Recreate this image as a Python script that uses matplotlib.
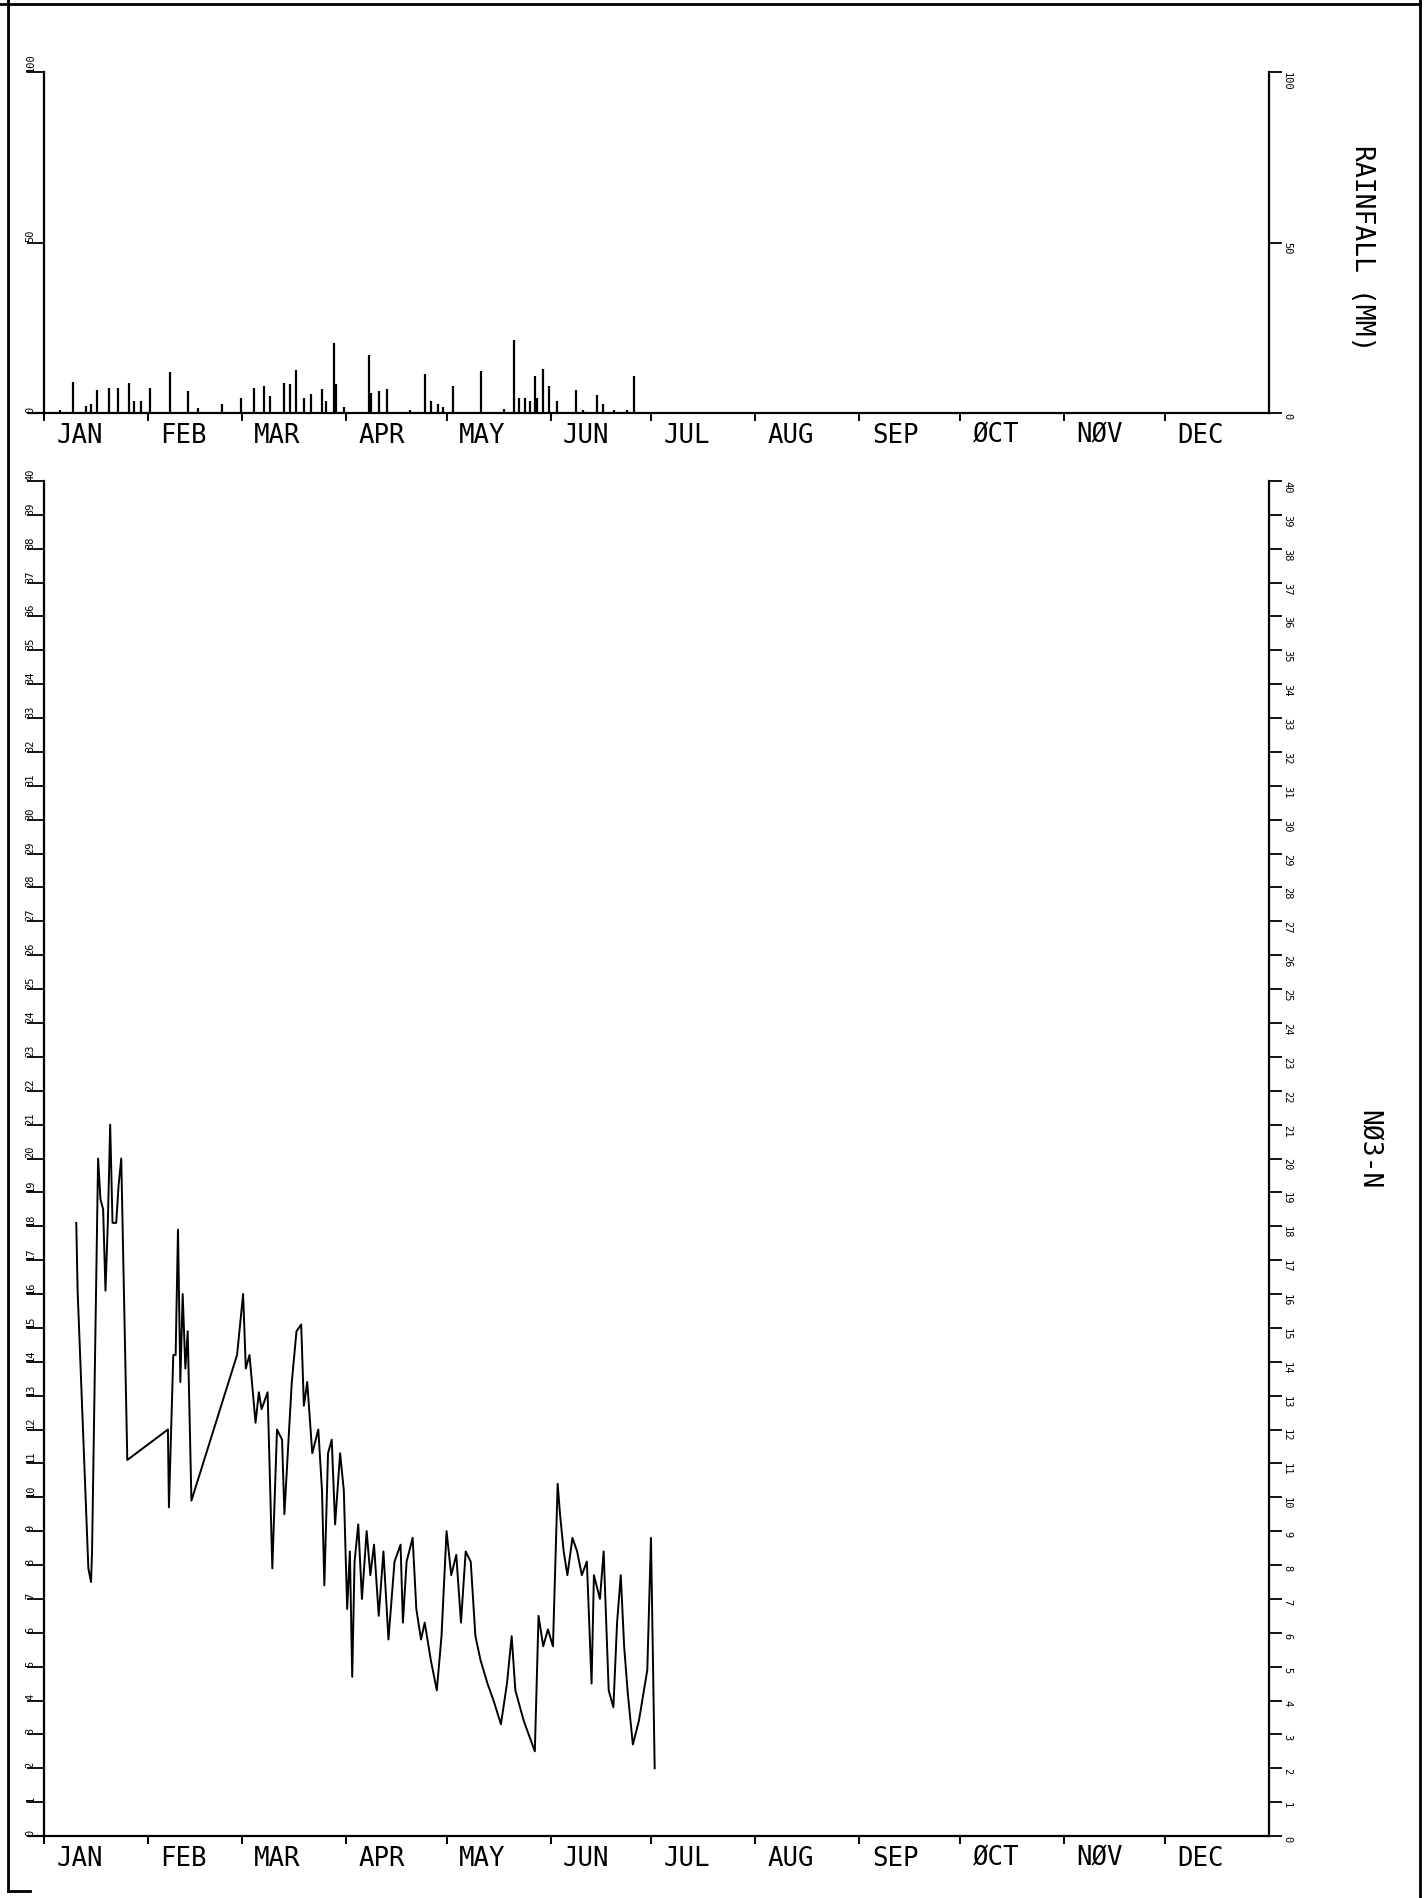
import matplotlib
matplotlib.use("Agg")
import matplotlib.pyplot as plt
import matplotlib.transforms as mtransforms
from matplotlib.lines import Line2D

MONTH_START = [0, 31, 59, 90, 120, 151, 181, 212, 243, 273, 304, 334]
MONTHS = ["JAN", "FEB", "MAR", "APR", "MAY", "JUN", "JUL", "AUG", "SEP", "ØCT", "NØV", "DEC"]

# daily rainfall (day of year, mm)
RAIN_DAY = [5, 8.6, 12.6, 14, 16, 19.5, 22, 25.5, 27, 29, 31.7, 37.5, 43, 46, 53, 58.7,
            62.7, 65.6, 67.4, 71.7, 73.5, 75.3, 77.5, 79.6, 82.9, 84, 86.5, 87, 89.4,
            97, 97.6, 99.8, 102.3, 109, 113.5, 115.3, 117.5, 119, 122, 130.4, 137, 140,
            141.6, 143.4, 145, 146.3, 147, 148.8, 150.6, 152.8, 158.5, 160.7, 164.7,
            166.5, 170, 173.7, 175.8]
RAIN_MM = [1, 9, 2, 2.5, 6.8, 7.4, 7.4, 8.8, 3.5, 3.5, 7.4, 12, 6.4, 1.5, 2.5, 4.4,
           7.4, 7.9, 5, 8.8, 8.4, 12.6, 4.3, 5.5, 6.9, 3.5, 20.6, 8.4, 1.7,
           17, 6, 6.4, 6.9, 1, 11.3, 3.4, 2.5, 1.7, 7.9, 12.3, 1.3, 21.5,
           4.3, 4.3, 3.4, 10.9, 4.3, 12.8, 7.9, 3.4, 6.8, 0.9, 5.4,
           2.5, 0.9, 0.9, 10.9]

# NO3-N concentration
NO3_DAY = [9.7, 10.1, 13.3, 14.1, 14.4, 16.2, 16.9, 17.7, 18.4, 19.1, 19.8, 20.5, 21.6,
           22.3, 23.1, 24.9, 37.0, 37.3, 38.6, 39.3, 40.0, 40.7, 41.4, 42.2, 42.9, 44.0,
           57.6, 59.4, 60.2, 61.3, 62.3, 63.1, 64.1, 64.9, 66.7, 68.1, 69.5, 71.0, 71.7,
           73.1, 73.9, 75.3, 76.7, 77.5, 78.5, 80.0, 81.8, 82.9, 83.6, 84.7, 85.8, 86.8,
           88.3, 89.4, 90.4, 91.2, 91.9, 92.6, 93.7, 94.8, 96.2, 97.3, 98.4, 99.8, 101.2,
           102.7, 104.5, 106.3, 107.0, 108.1, 109.9, 111.0, 112.4, 113.5, 115.3, 117.1,
           118.5, 120.0, 121.4, 122.9, 124.3, 125.7, 127.2, 128.6, 130.1, 132.2, 134.0,
           136.2, 138.0, 139.4, 140.5, 143.0, 146.3, 147.4, 148.8, 150.2, 151.7, 153.1,
           153.8, 154.9, 156.0, 157.5, 158.9, 160.3, 161.8, 163.2, 163.9, 165.7, 166.8,
           168.3, 169.7, 170.8, 171.9, 172.9, 174.0, 175.5, 177.3, 178.3, 179.8, 180.9,
           182.0]
NO3_VAL = [18.1, 16.1, 7.9, 7.5, 8.4, 20.0, 18.8, 18.5, 16.1, 18.1, 21.0, 18.1, 18.1,
           19.2, 20.0, 11.1, 12.0, 9.7, 14.2, 14.2, 17.9, 13.4, 16.0, 13.8, 14.9, 9.9,
           14.2, 16.0, 13.8, 14.2, 13.1, 12.2, 13.1, 12.6, 13.1, 7.9, 12.0, 11.7, 9.5,
           12.0, 13.4, 14.9, 15.1, 12.7, 13.4, 11.3, 12.0, 10.2, 7.4, 11.3, 11.7, 9.2,
           11.3, 10.2, 6.7, 8.4, 4.7, 8.1, 9.2, 7.0, 9.0, 7.7, 8.6, 6.5, 8.4,
           5.8, 8.1, 8.6, 6.3, 8.1, 8.8, 6.7, 5.8, 6.3, 5.2, 4.3,
           5.9, 9.0, 7.7, 8.3, 6.3, 8.4, 8.1, 5.9, 5.2, 4.5, 4.0,
           3.3, 4.5, 5.9, 4.3, 3.4, 2.5, 6.5, 5.6, 6.1, 5.6, 10.4,
           9.5, 8.4, 7.7, 8.8, 8.4, 7.7, 8.1, 4.5, 7.7, 7.0,
           8.4, 4.3, 3.8, 6.3, 7.7, 5.6, 4.2, 2.7, 3.4, 4.0, 4.9, 8.8,
           2.0]

W, H = 1425, 1898
plt.rcParams["font.family"] = ["DejaVu Sans Mono"]

fig = plt.figure(figsize=(W / 100, H / 100), dpi=100)

X0_PX, X1_PX = 28.6, 1269
ax_rain = fig.add_axes([X0_PX / W, 1 - 413 / H, (X1_PX - X0_PX) / W, (413 - 72) / H])
ax_no3 = fig.add_axes([X0_PX / W, 1 - 1836 / H, (X1_PX - X0_PX) / W, (1836 - 481) / H])


def style_axes(ax, yticks):
    ax.set_xlim(-4.5, 365)
    ax.spines["top"].set_visible(False)
    ax.spines["left"].set_position(("data", 0))
    for s in ["left", "right", "bottom"]:
        ax.spines[s].set_linewidth(1.6)

    ax.set_xticks(MONTH_START)
    ax.set_xticklabels(MONTHS, fontsize=18.5, ha="left")
    ax.tick_params(axis="x", direction="out", length=6, width=1.4, pad=1)
    offset = mtransforms.ScaledTranslation(9 / 72, 0, fig.dpi_scale_trans)
    for lab in ax.get_xticklabels():
        lab.set_transform(lab.get_transform() + offset)

    ax.set_yticks(yticks)
    ax.set_yticklabels([str(v) for v in yticks])
    ax.tick_params(axis="y", which="both", left=True, right=True,
                   labelleft=True, labelright=True, direction="out",
                   length=12, width=1.3, pad=-2.5, labelsize=7.5)
    for t in ax.yaxis.get_major_ticks():
        t.label1.set_rotation(90)
        t.label1.set_ha("center")
        t.label1.set_va("bottom")
        t.label2.set_rotation(270)
        t.label2.set_ha("left")
        t.label2.set_va("top")
        t.tick2line.set_markersize(9)


ax_rain.vlines(RAIN_DAY, 0, RAIN_MM, color="black", lw=1.6)
ax_rain.set_ylim(0, 100)
style_axes(ax_rain, [0, 50, 100])

ax_no3.plot(NO3_DAY, NO3_VAL, color="black", lw=1.4)
ax_no3.set_ylim(0, 40)
style_axes(ax_no3, list(range(0, 41)))

fig.text(1362 / W, 1 - 248 / H, "RAINFALL (MM)", rotation=270, ha="center",
         va="center", fontsize=19)
fig.text(1368 / W, 1 - 1150 / H, "NØ3-N", rotation=270, ha="center",
         va="center", fontsize=19)

# scanned page frame
fig.add_artist(Line2D([8 / W, 8 / W], [1 - 1891 / H, 1], color="black", lw=2))
fig.add_artist(Line2D([1420 / W, 1420 / W], [0, 1], color="black", lw=2))
fig.add_artist(Line2D([0, 1420 / W], [1 - 4 / H, 1 - 4 / H], color="black", lw=2))
fig.add_artist(Line2D([8 / W, 30 / W], [1 - 1891 / H, 1 - 1891 / H], color="black", lw=2))

fig.savefig("out.png", dpi=100)
